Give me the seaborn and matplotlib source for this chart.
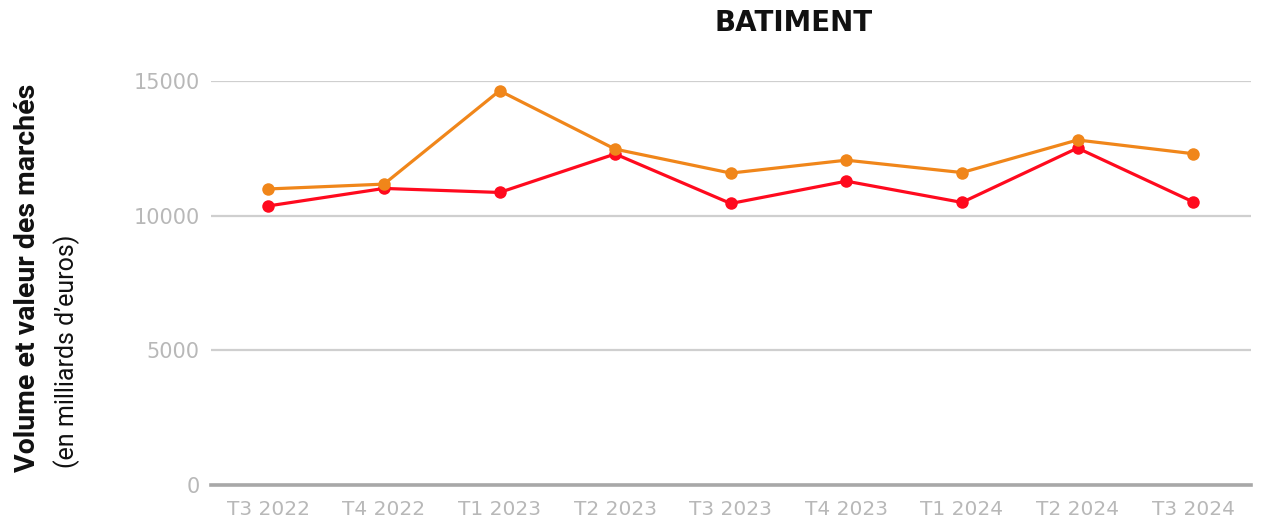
import matplotlib
matplotlib.use("Agg")
import matplotlib.pyplot as plt
import seaborn as sns
import pandas as pd

quarters = ["T3 2022", "T4 2022", "T1 2023", "T2 2023", "T3 2023",
            "T4 2023", "T1 2024", "T2 2024", "T3 2024"]
serie_rouge = [10370, 11020, 10870, 12300, 10460, 11290, 10500, 12520, 10520]
serie_orange = [11000, 11180, 14650, 12480, 11590, 12070, 11610, 12820, 12310]
series_names = ["Volume", "Valeur"]
yticks = [0, 5000, 10000, 15000]

df = pd.DataFrame({
    "trimestre": quarters * 2,
    "valeur": serie_rouge + serie_orange,
    "serie": [series_names[0]] * len(quarters) + [series_names[1]] * len(quarters),
})

sns.set_theme(style="white")
plt.rcParams["font.family"] = ["Roboto", "DejaVu Sans"]

fig = plt.figure(figsize=(12.61, 5.27), dpi=100)
ax = fig.add_axes([0.167, 0.0797, 0.825, 0.766])

sns.lineplot(data=df, x="trimestre", y="valeur", hue="serie",
             palette={series_names[0]: "#FF0A1E", series_names[1]: "#F0861A"},
             marker="o", markersize=9, markeredgewidth=0, linewidth=2.3,
             ax=ax, legend=False, sort=False, clip_on=False)

ax.set_xlim(-0.5, len(quarters) - 0.5)
ax.set_ylim(0, 15000)
ax.set_yticks(yticks)
ax.set_yticklabels([str(t) for t in yticks])
ax.yaxis.grid(True, color="#cfcfcf", linewidth=1.6)
ax.xaxis.grid(False)
for s in ["top", "right", "left"]:
    ax.spines[s].set_visible(False)
ax.spines["bottom"].set_color("#a8a8a8")
ax.spines["bottom"].set_linewidth(2.6)
ax.tick_params(axis="both", length=0, colors="#b8b8b8")
ax.tick_params(axis="y", pad=8)
ax.tick_params(axis="x", pad=11)
for lab in ax.get_yticklabels():
    lab.set_fontfamily("DejaVu Sans")
    lab.set_fontsize(15)
for lab in ax.get_xticklabels():
    lab.set_fontfamily("DejaVu Sans")
    lab.set_fontsize(14.5)
ax.set_xlabel("")
ax.set_ylabel("")

fig.text(0.022, 0.472, "Volume et valeur des marchés", rotation=90,
         ha="center", va="center", fontsize=20.5, fontweight="bold", color="#111111")
fig.text(0.053, 0.334, "(en milliards d’euros)", rotation=90,
         ha="center", va="center", fontsize=18, color="#111111")
fig.text(0.629, 0.957, "BATIMENT", ha="center", va="center",
         fontsize=20, fontweight="bold", color="#111111", family="DejaVu Sans")

fig.savefig("out.png", dpi=100)
